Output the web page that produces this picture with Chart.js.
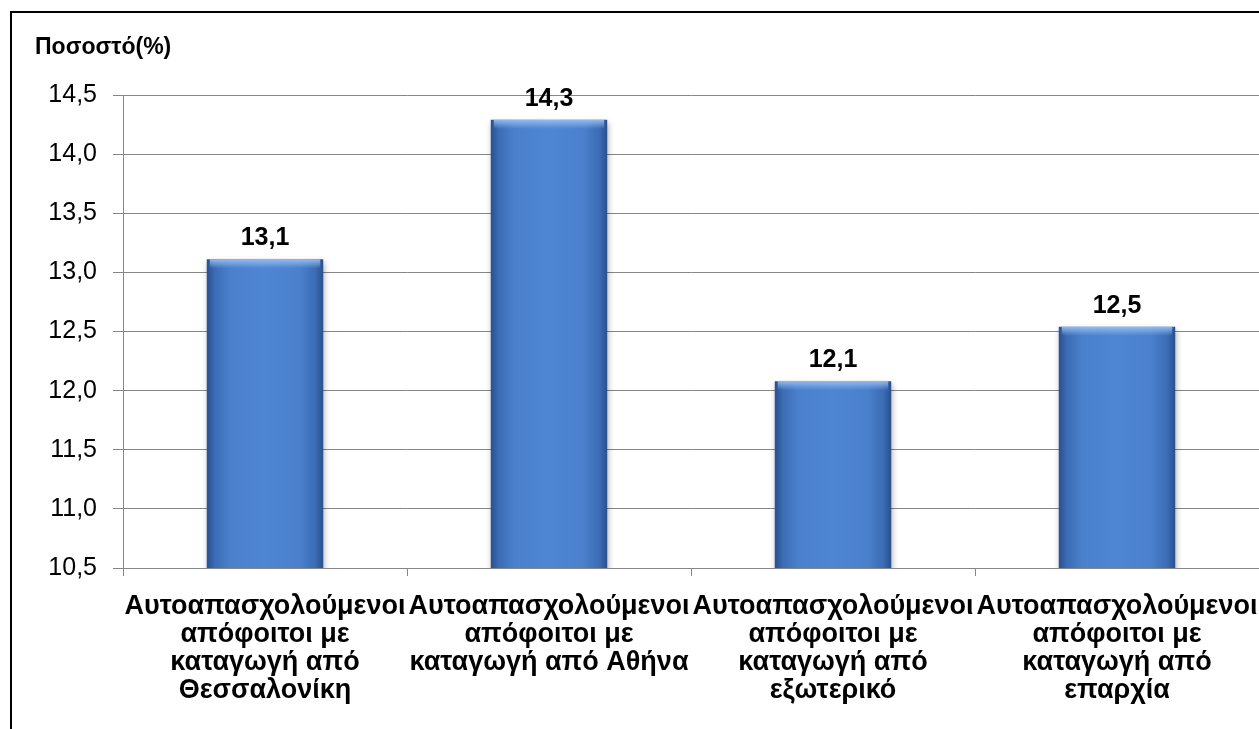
<!DOCTYPE html>
<html>
<head>
<meta charset="utf-8">
<script src="https://cdn.jsdelivr.net/npm/chart.js@4/dist/chart.umd.min.js"></script>
<style>
  body { margin: 0; background: #fff; overflow: hidden; }
  #frame { position: absolute; left: 10px; top: 11px; width: 1300px; height: 800px;
           border-left: 2px solid #000; border-top: 2px solid #000; }
  #chart { position: absolute; left: 0; top: 0; }
</style>
</head>
<body>
<div id="frame"><canvas id="chart" width="1247" height="716"></canvas></div>
<script>
// chart data
const categories = [
    ['Αυτοαπασχολούμενοι', 'απόφοιτοι με', 'καταγωγή από', 'Θεσσαλονίκη'],
    ['Αυτοαπασχολούμενοι', 'απόφοιτοι με', 'καταγωγή από Αθήνα'],
    ['Αυτοαπασχολούμενοι', 'απόφοιτοι με', 'καταγωγή από', 'εξωτερικό'],
    ['Αυτοαπασχολούμενοι', 'απόφοιτοι με', 'καταγωγή από', 'επαρχία']
];
const values = [13.11, 14.29, 12.08, 12.54];
const yMin = 10.5;
const yMax = 14.5;
const yStep = 0.5;
const yTitle = 'Ποσοστό(%)';

const fmt = v => v.toFixed(1).replace('.', ',');
const FONT = "'Liberation Sans', Arial, sans-serif";
const BAR_PCT = 0.41;

function barGradient(ctx) {
    const chart = ctx.chart;
    const xs = chart.scales.x;
    if (!xs || ctx.dataIndex === undefined) return '#4a7fcc';
    const cx = xs.getPixelForValue(ctx.dataIndex);
    const half = (xs.right - xs.left) / categories.length * BAR_PCT / 2;
    if (!isFinite(cx) || !isFinite(half) || half <= 0) return '#4a7fcc';
    const g = chart.ctx.createLinearGradient(cx - half, 0, cx + half, 0);
    g.addColorStop(0, '#29508e');
    g.addColorStop(0.07, '#3c6db6');
    g.addColorStop(0.2, '#4a80cc');
    g.addColorStop(0.5, '#4f86d3');
    g.addColorStop(0.8, '#4a80cc');
    g.addColorStop(0.93, '#3c6db6');
    g.addColorStop(1, '#29508e');
    return g;
}

// title + value labels + shadow
const extras = {
    id: 'extras',
    beforeDatasetsDraw(chart) {
        const c = chart.ctx;
        c.save();
        c.shadowColor = 'rgba(0,0,0,0.35)';
        c.shadowBlur = 6;
        c.shadowOffsetX = 1;
        c.shadowOffsetY = 3;
    },
    afterDatasetsDraw(chart) {
        const c = chart.ctx;
        c.restore();
        const meta = chart.getDatasetMeta(0);
        c.save();
        // top bevel highlight / bottom shade
        meta.data.forEach(bar => {
            const half = bar.width / 2;
            const g = c.createLinearGradient(0, bar.y, 0, bar.y + 9);
            g.addColorStop(0, 'rgba(150,190,240,0.95)');
            g.addColorStop(1, 'rgba(150,190,240,0)');
            c.fillStyle = g;
            c.fillRect(bar.x - half + 3, bar.y, bar.width - 6, 9);
            const gb = c.createLinearGradient(0, bar.base - 9, 0, bar.base);
            gb.addColorStop(0, 'rgba(30,60,110,0)');
            gb.addColorStop(1, 'rgba(30,60,110,0.6)');
            c.fillStyle = gb;
            c.fillRect(bar.x - half + 3, bar.base - 9, bar.width - 6, 9);
        });
        c.fillStyle = '#000';
        c.font = 'bold 25px ' + FONT;
        c.textAlign = 'center';
        c.textBaseline = 'middle';
        meta.data.forEach((bar, i) => {
            c.fillText(fmt(values[i]), bar.x, bar.y - 21);
        });
        c.font = 'bold 23px ' + FONT;
        c.textAlign = 'left';
        c.fillText(yTitle, 23, 35);
        c.restore();
    }
};

const ctx = document.getElementById('chart').getContext('2d');
new Chart(ctx, {
    type: 'bar',
    data: {
        labels: categories,
        datasets: [{
            data: values,
            backgroundColor: barGradient,
            borderWidth: 0,
            barPercentage: BAR_PCT,
            categoryPercentage: 1
        }]
    },
    options: {
        responsive: false,
        animation: false,
        layout: { padding: { top: 82, left: 0, right: 0, bottom: 0 } },
        plugins: {
            legend: { display: false },
            tooltip: { enabled: false }
        },
        scales: {
            x: {
                offset: true,
                grid: { offset: true, drawOnChartArea: false, color: '#868686', tickLength: 8 },
                border: { color: '#868686', width: 1 },
                ticks: {
                    color: '#000',
                    padding: 17,
                    maxRotation: 0,
                    minRotation: 0,
                    autoSkip: false,
                    font: { family: FONT, size: 27, weight: 'bold', lineHeight: '28px' }
                },
                afterFit(scale) {
                    scale.height = 161;
                    scale.paddingLeft = 0;
                    scale.paddingRight = 0;
                }
            },
            y: {
                min: yMin,
                max: yMax,
                grid: { color: '#868686', tickLength: 10 },
                border: { color: '#868686', width: 1 },
                ticks: {
                    stepSize: yStep,
                    color: '#000',
                    padding: 16,
                    font: { family: FONT, size: 25 },
                    callback: v => fmt(v)
                },
                afterFit(scale) { scale.width = 111; }
            }
        }
    },
    plugins: [extras]
});
</script>
</body>
</html>
